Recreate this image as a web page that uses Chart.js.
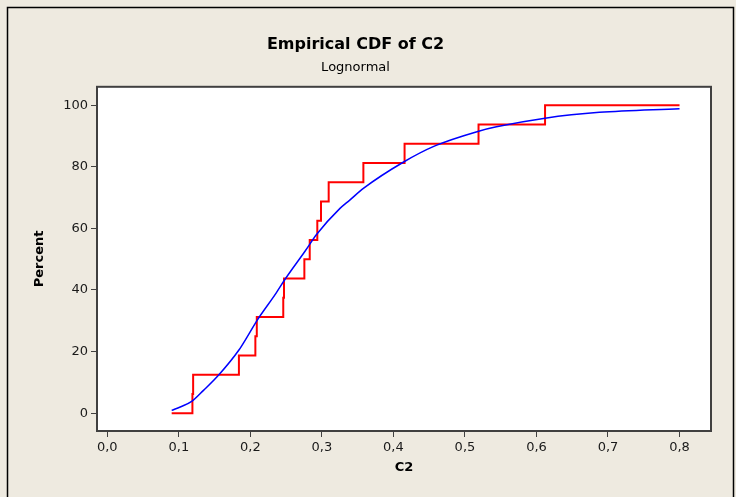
<!DOCTYPE html>
<html>
<head>
<meta charset="utf-8">
<script src="https://cdn.jsdelivr.net/npm/chart.js@4"></script>
<style>
  body { margin: 0; background: #eeeae0; }
  canvas { display: block; }
</style>
</head>
<body>
<canvas id="myChart" width="736" height="497"></canvas>
<script>
// data
const sampleX = [0.119, 0.120, 0.184, 0.207, 0.209, 0.246, 0.247, 0.2755, 0.283, 0.2936, 0.2988, 0.3095, 0.358, 0.4156, 0.519, 0.612];
const ecdfY = [6.25, 12.5, 18.75, 25, 31.25, 37.5, 43.75, 50, 56.25, 62.5, 68.75, 75, 81.25, 87.5, 93.75, 100];
const rangeX = [0.09, 0.8];

const fitX = [0.09, 0.102, 0.118, 0.1345, 0.1554, 0.184, 0.1987, 0.209, 0.236, 0.2485, 0.2764, 0.2928, 0.3253, 0.339, 0.358, 0.4137, 0.458, 0.518, 0.544, 0.612, 0.688, 0.8];
const fitY = [0.9, 2.0, 3.8, 7.4, 12.3, 20.5, 26.0, 30.0, 39.0, 43.5, 52.6, 58.1, 66.5, 69.2, 73.0, 81.5, 86.8, 91.5, 93.0, 95.8, 97.7, 98.9];

const xTicks = [0, 0.1, 0.2, 0.3, 0.4, 0.5, 0.6, 0.7, 0.8];
const yTicks = [0, 20, 40, 60, 80, 100];

// build points
const ecdfPoints = [{ x: rangeX[0], y: 0 }];
sampleX.forEach((v, i) => ecdfPoints.push({ x: v, y: ecdfY[i] }));
ecdfPoints.push({ x: rangeX[1], y: ecdfY[ecdfY.length - 1] });

const fitPoints = fitX.map((v, i) => ({ x: v, y: fitY[i] }));

const FONT = "'DejaVu Sans', sans-serif";

// background, white plot area, frames
const framePlugin = {
  id: "frame",
  beforeDraw(chart) {
    const { ctx, chartArea: a } = chart;
    ctx.save();
    ctx.fillStyle = "#eeeae0";
    ctx.fillRect(0, 0, chart.width, chart.height);
    ctx.fillStyle = "#ffffff";
    ctx.fillRect(a.left, a.top, a.right - a.left, a.bottom - a.top);
    ctx.strokeStyle = "#000000";
    ctx.lineWidth = 1.5;
    ctx.beginPath();
    ctx.moveTo(7.5, 505);
    ctx.lineTo(7.5, 7.5);
    ctx.lineTo(733.5, 7.5);
    ctx.lineTo(733.5, 505);
    ctx.stroke();
    ctx.restore();
  },
  afterDraw(chart) {
    const { ctx, chartArea: a } = chart;
    ctx.save();
    ctx.strokeStyle = "#404040";
    ctx.lineWidth = 2;
    ctx.strokeRect(a.left, a.top, a.right - a.left, a.bottom - a.top);
    ctx.restore();
  },
};

const data = {
  datasets: [
    {
      label: "Lognormal",
      data: fitPoints,
      borderColor: "#0000ff",
      borderWidth: 1.5,
      pointRadius: 0,
      cubicInterpolationMode: "monotone",
      order: 0,
    },
    {
      label: "C2",
      data: ecdfPoints,
      borderColor: "#ff0000",
      borderWidth: 2,
      pointRadius: 0,
      stepped: "before",
      order: 1,
    },
  ],
};

const config = {
  type: "line",
  data,
  plugins: [framePlugin],
  options: {
    responsive: false,
    animation: false,
    devicePixelRatio: 1,
    layout: {
      padding: { top: 10, right: 25, left: 0, bottom: 0 },
    },
    scales: {
      x: {
        type: "linear",
        min: -0.0144,
        max: 0.844,
        afterBuildTicks: (scale) => {
          scale.ticks = xTicks.map((v) => ({ value: v }));
        },
        afterFit: (scale) => {
          scale.height = 66;
        },
        grid: {
          drawOnChartArea: false,
          tickLength: 6,
          color: "#404040",
          lineWidth: 1,
        },
        border: { display: false },
        ticks: {
          padding: 3,
          color: "#1a1a1a",
          font: { size: 13, family: FONT },
          callback: (v) => v.toFixed(1).replace(".", ","),
        },
        title: {
          display: true,
          text: "C2",
          color: "#000000",
          font: { size: 13, family: FONT, weight: "bold" },
          padding: { top: 0, bottom: 22 },
        },
      },
      y: {
        min: -5.8,
        max: 106,
        afterBuildTicks: (scale) => {
          scale.ticks = yTicks.map((v) => ({ value: v }));
        },
        afterFit: (scale) => {
          scale.width = 97;
        },
        grid: {
          drawOnChartArea: false,
          tickLength: 6,
          color: "#404040",
          lineWidth: 1,
        },
        border: { display: false },
        ticks: {
          padding: 3,
          color: "#1a1a1a",
          font: { size: 13, family: FONT },
        },
        title: {
          display: true,
          text: "Percent",
          color: "#000000",
          font: { size: 13, family: FONT, weight: "bold" },
          padding: { top: 32, bottom: 0 },
        },
      },
    },
    plugins: {
      legend: { display: false },
      tooltip: { enabled: false },
      title: {
        display: true,
        text: "Empirical CDF of C2",
        color: "#000000",
        font: { size: 16, family: FONT, weight: "bold" },
        padding: { top: 25, bottom: 6 },
      },
      subtitle: {
        display: true,
        text: "Lognormal",
        color: "#000000",
        font: { size: 13, family: FONT },
        padding: { top: 0, bottom: 11 },
      },
    },
  },
};

const myChart = new Chart(document.getElementById("myChart"), config);
</script>
</body>
</html>
